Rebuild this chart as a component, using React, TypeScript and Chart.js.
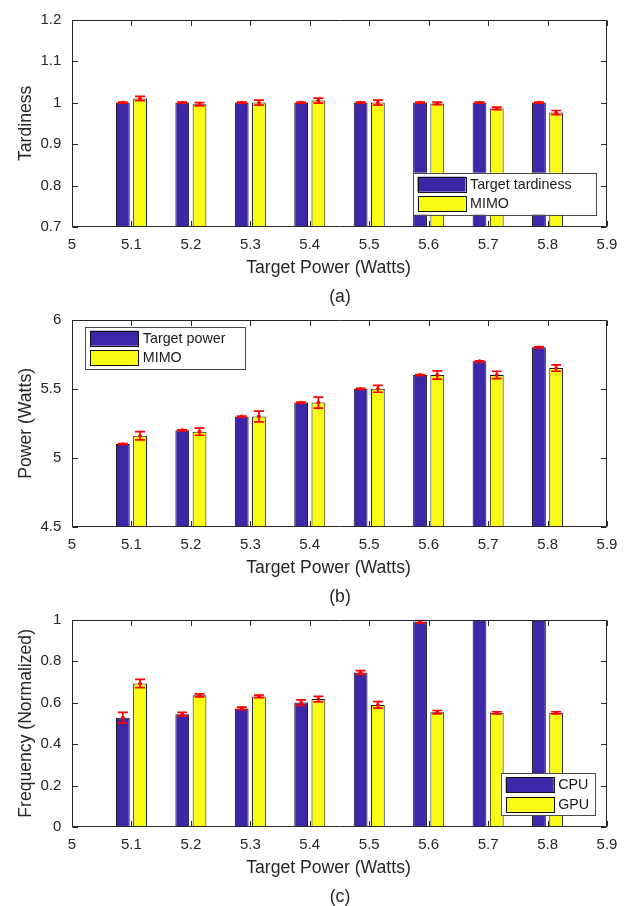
import React, { useEffect, useRef } from "react";
import { Chart, registerables } from "chart.js";

Chart.register(...registerables);

// ---------- data ----------
const xTickLabels = ["5", "5.1", "5.2", "5.3", "5.4", "5.5", "5.6", "5.7", "5.8", "5.9"];
const xTitle = "Target Power (Watts)";

// (a) tardiness
const aTargetTardiness = [1, 1, 1, 1, 1, 1, 1, 1];
const aTargetTardinessErr = [0.001, 0.001, 0.001, 0.001, 0.001, 0.001, 0.001, 0.001];
const aMimo = [1.01, 0.996, 1.0, 1.005, 1.0, 0.998, 0.986, 0.976];
const aMimoErr = [0.005, 0.004, 0.006, 0.006, 0.006, 0.003, 0.003, 0.005];
const aYTicks = [0.7, 0.8, 0.9, 1, 1.1, 1.2];

// (b) power
const bTargetPower = [5.1, 5.2, 5.3, 5.4, 5.5, 5.6, 5.7, 5.8];
const bTargetPowerErr = [0.003, 0.003, 0.003, 0.003, 0.003, 0.003, 0.003, 0.003];
const bMimo = [5.16, 5.19, 5.3, 5.4, 5.5, 5.6, 5.6, 5.65];
const bMimoErr = [0.03, 0.026, 0.039, 0.04, 0.025, 0.03, 0.027, 0.023];
const bYTicks = [4.5, 5, 5.5, 6];

// (c) frequency
const cCpu = [0.527, 0.544, 0.572, 0.6, 0.745, 0.991, 1.0, 1.0];
const cCpuErr = [0.026, 0.009, 0.006, 0.013, 0.009, 0.007, null, null];
const cGpu = [0.692, 0.635, 0.63, 0.617, 0.589, 0.554, 0.551, 0.551];
const cGpuErr = [0.02, 0.007, 0.006, 0.013, 0.016, 0.008, 0.005, 0.005];
const cYTicks = [0, 0.2, 0.4, 0.6, 0.8, 1];

// ---------- style ----------
const FONT = "'Liberation Sans', Arial, Helvetica, sans-serif";
const TEXT = "#262626";
const BLUE = "#3E26A8";
const YELLOW = "#F9FB15";
const RED = "#FF0000";
const W = 630;
const H = 300;

const padEnds = (arr: (number | null)[]) => [null, ...arr, null];

const fmt = (v: number) => String(Math.round(v * 100) / 100);

const framePlugin = {
  id: "frame",
  afterDatasetsDraw(chart: any, _args: any, opts: any) {
    const { ctx, chartArea: a, scales } = chart;
    const xs = scales.x;
    const ys = scales.y;
    ctx.save();
    // error bars (clipped)
    ctx.save();
    ctx.beginPath();
    ctx.rect(a.left, a.top, a.right - a.left, a.bottom - a.top);
    ctx.clip();
    chart.data.datasets.forEach((ds: any, di: number) => {
      const meta = chart.getDatasetMeta(di);
      meta.data.forEach((bar: any, i: number) => {
        const v = ds.data[i];
        const e = ds.errors ? ds.errors[i] : null;
        if (v == null || e == null) return;
        const cx = bar.x;
        const y1 = ys.getPixelForValue(v - e);
        const y2 = ys.getPixelForValue(v + e);
        const yc = ys.getPixelForValue(v);
        ctx.strokeStyle = RED;
        ctx.lineWidth = 1.7;
        ctx.beginPath();
        ctx.moveTo(cx, y1);
        ctx.lineTo(cx, y2);
        ctx.moveTo(cx - 5, y1);
        ctx.lineTo(cx + 5, y1);
        ctx.moveTo(cx - 5, y2);
        ctx.lineTo(cx + 5, y2);
        ctx.stroke();
        ctx.fillStyle = RED;
        ctx.beginPath();
        ctx.arc(cx, yc, 1.9, 0, Math.PI * 2);
        ctx.fill();
      });
    });
    ctx.restore();

    // box and inward ticks
    const L = Math.round(a.left) + 0.5;
    const R = Math.round(a.right) - 0.5;
    const T = Math.round(a.top) + 0.5;
    const B = Math.round(a.bottom) - 0.5;
    ctx.strokeStyle = TEXT;
    ctx.lineWidth = 1;
    ctx.beginPath();
    ctx.rect(L, T, R - L, B - T);
    const tl = 5.5;
    ys.ticks.forEach((t: any) => {
      const yy = Math.round(ys.getPixelForValue(t.value)) + 0.5;
      ctx.moveTo(L, yy);
      ctx.lineTo(L + tl, yy);
      ctx.moveTo(R, yy);
      ctx.lineTo(R - tl, yy);
    });
    xTickLabels.forEach((_l, i) => {
      const xx = Math.round(xs.getPixelForValue(i)) + 0.5;
      ctx.moveTo(xx, B);
      ctx.lineTo(xx, B - tl);
      ctx.moveTo(xx, T);
      ctx.lineTo(xx, T + tl);
    });
    ctx.stroke();

    // x title
    ctx.fillStyle = TEXT;
    ctx.font = `17.6px ${FONT}`;
    ctx.textAlign = "center";
    ctx.textBaseline = "alphabetic";
    ctx.fillText(xTitle, 328.5, 273.3);

    // legend
    const lg = opts.legend;
    if (lg) {
      const lh = 42;
      ctx.fillStyle = "#ffffff";
      ctx.fillRect(lg.left, lg.top, lg.right - lg.left, lh);
      ctx.strokeStyle = "#4a4a4a";
      ctx.lineWidth = 1;
      ctx.strokeRect(Math.round(lg.left) + 0.5, Math.round(lg.top) + 0.5, Math.round(lg.right - lg.left), lh);
      const rows = [lg.top + 4, lg.top + 23.5];
      chart.data.datasets.forEach((ds: any, di: number) => {
        const ry = rows[di];
        ctx.fillStyle = ds.backgroundColor;
        ctx.fillRect(lg.left + 5, ry, 48, 15);
        ctx.strokeStyle = "#111111";
        ctx.strokeRect(Math.round(lg.left + 5) + 0.5, Math.round(ry) + 0.5, 48, 15);
        ctx.fillStyle = "#1a1a1a";
        ctx.font = `14.3px ${FONT}`;
        ctx.textAlign = "left";
        ctx.textBaseline = "middle";
        ctx.fillText(ds.label, lg.left + 57.5, ry + 8);
      });
    }
    ctx.restore();
  },
};

type Series = { label: string; color: string; values: (number | null)[]; errors: (number | null)[] };

function Panel(props: {
  top: number;
  yMin: number;
  yMax: number;
  yTicks: number[];
  yTitle: string;
  series: Series[];
  legend: { left: number; top: number; right: number };
  caption: string;
}) {
  const ref = useRef<HTMLCanvasElement | null>(null);
  useEffect(() => {
    if (!ref.current) return;
    const chart = new Chart(ref.current, {
      type: "bar",
      data: {
        labels: xTickLabels,
        datasets: props.series.map((s) => ({
          label: s.label,
          data: padEnds(s.values),
          errors: padEnds(s.errors),
          backgroundColor: s.color,
          borderColor: "#111111",
          borderWidth: 1,
          categoryPercentage: 0.58,
          barPercentage: 0.8,
        })) as any,
      },
      options: {
        responsive: false,
        animation: false,
        devicePixelRatio: 1,
        events: [],
        layout: { padding: { left: 0, right: 23, top: 14, bottom: 0 } },
        plugins: {
          legend: { display: false },
          tooltip: { enabled: false },
          frame: { legend: props.legend },
        } as any,
        scales: {
          x: {
            type: "category",
            offset: false,
            grid: { display: false, drawTicks: false, offset: false },
            border: { display: false },
            ticks: {
              autoSkip: false,
              maxRotation: 0,
              padding: 8.7,
              color: TEXT,
              font: { family: FONT, size: 15 },
            },
            afterFit: (s: any) => {
              s.height = 73;
            },
          },
          y: {
            type: "linear",
            min: props.yMin,
            max: props.yMax,
            grid: { display: false, drawTicks: false },
            border: { display: false },
            afterBuildTicks: (s: any) => {
              s.ticks = props.yTicks.map((v) => ({ value: v }));
            },
            ticks: {
              padding: 10.7,
              color: TEXT,
              font: { family: FONT, size: 15 },
              callback: (v: any) => fmt(Number(v)),
            },
            title: {
              display: true,
              text: props.yTitle,
              color: TEXT,
              font: { family: FONT, size: 17.6 },
              padding: { top: 15.3, bottom: 0 },
            },
            afterFit: (s: any) => {
              s.width = 72;
            },
          },
        },
      } as any,
      plugins: [framePlugin as any],
    });
    return () => chart.destroy();
  }, []);
  return (
    <>
      <canvas
        ref={ref}
        width={W}
        height={H}
        style={{ position: "absolute", left: 0, top: props.top, width: W, height: H, display: "block" }}
      />
      <div
        style={{
          position: "absolute",
          left: 0,
          width: 680,
          top: props.top + 286,
          textAlign: "center",
          fontFamily: FONT,
          fontSize: "17.6px",
          lineHeight: "20px",
          color: TEXT,
          zIndex: 2,
        }}
      >
        {props.caption}
      </div>
    </>
  );
}

export default function App() {
  return (
    <div style={{ position: "absolute", left: 0, top: 0, width: W, height: 906, background: "#fff", overflow: "hidden" }}>
      <Panel
        top={0}
        yMin={0.7}
        yMax={1.2}
        yTicks={aYTicks}
        yTitle="Tardiness"
        series={[
          { label: "Target tardiness", color: BLUE, values: aTargetTardiness, errors: aTargetTardinessErr },
          { label: "MIMO", color: YELLOW, values: aMimo, errors: aMimoErr },
        ]}
        legend={{ left: 412.5, top: 172.7, right: 595 }}
        caption="(a)"
      />
      <Panel
        top={300}
        yMin={4.5}
        yMax={6}
        yTicks={bYTicks}
        yTitle="Power (Watts)"
        series={[
          { label: "Target power", color: BLUE, values: bTargetPower, errors: bTargetPowerErr },
          { label: "MIMO", color: YELLOW, values: bMimo, errors: bMimoErr },
        ]}
        legend={{ left: 85.3, top: 26.7, right: 245.7 }}
        caption="(b)"
      />
      <Panel
        top={600}
        yMin={0}
        yMax={1}
        yTicks={cYTicks}
        yTitle="Frequency (Normalized)"
        series={[
          { label: "CPU", color: BLUE, values: cCpu, errors: cCpuErr },
          { label: "GPU", color: YELLOW, values: cGpu, errors: cGpuErr },
        ]}
        legend={{ left: 500.7, top: 173.3, right: 594.3 }}
        caption="(c)"
      />
    </div>
  );
}
